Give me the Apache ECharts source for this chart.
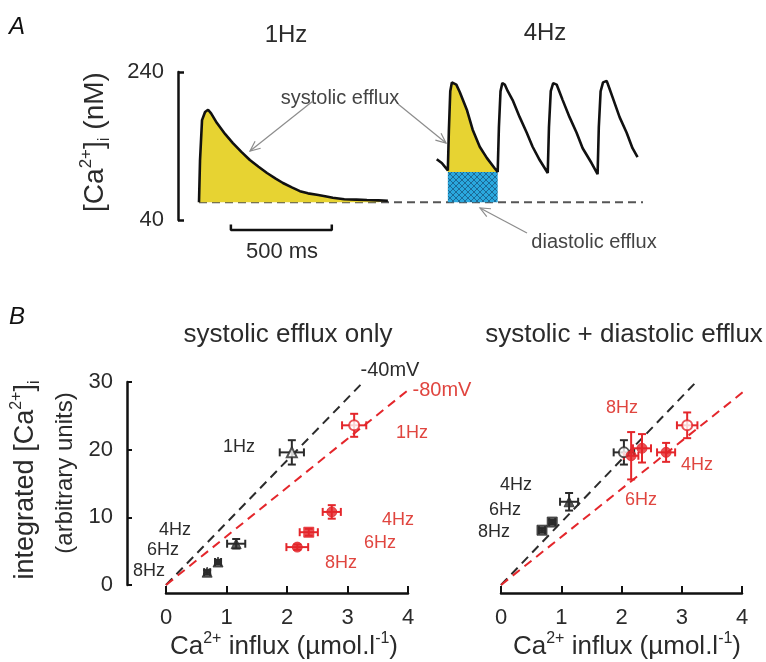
<!DOCTYPE html>
<html>
<head>
<meta charset="utf-8">
<script src="https://cdn.jsdelivr.net/npm/echarts@6/dist/echarts.min.js"></script>
<style>
  html, body { margin: 0; padding: 0; background: #fff; }
  #main { width: 766px; height: 662px; }
</style>
</head>
<body>
<div id="main"></div>
<script>
// --- panel A: Ca transients (time in ms, [Ca2+]i in nM) ---
const oneHzTime = [0, 5, 15, 30, 45, 60, 89, 130, 168, 210, 252, 295, 337, 380, 416, 460, 500, 540, 584, 625, 663, 720, 780, 832, 890, 936]
const oneHzCa = [64, 120, 175, 186, 189, 184, 171, 156, 144, 132, 121, 112, 103.5, 96, 90, 84, 79, 76, 74, 72, 70, 68, 67.5, 67, 66.5, 66]

const fourHzTime = [1178, 1203, 1233, 1238, 1245, 1253, 1262, 1275, 1292, 1327, 1356, 1391, 1426, 1465, 1480,
  1486, 1494, 1503, 1515, 1530, 1554, 1589, 1624, 1653, 1688, 1728,
  1734, 1743, 1755, 1772, 1785, 1802, 1836, 1871, 1901, 1945, 1975,
  1981, 1990, 2002, 2020, 2032, 2049, 2084, 2119, 2148, 2173]
const fourHzCa = [122, 117, 107, 160, 214, 226, 228, 223, 213, 189, 162, 139, 124, 110, 105,
  165, 214, 225, 223, 214, 202, 179, 158, 139, 121, 103.5,
  165, 214, 225, 223, 214, 202, 179, 158, 137, 117, 102,
  165, 214, 226, 228, 219, 206, 179, 158, 137, 125]

const baselineCa = 64
const diastolicCa = 105
const firstBeat = [2, 14]           // index range of the first 4Hz beat
const timeRange = [0, 2200]
const caTicks = [40, 240]
const scaleBarTime = [158, 658]     // 500 ms

// --- panel B: integrated efflux vs influx ---
const freqs = ['1Hz', '4Hz', '6Hz', '8Hz']

// systolic efflux only
const sysInflux40 = [2.08, 1.16, 0.86, 0.68]
const sysEfflux40 = [19.6, 6.1, 3.4, 1.9]
const sysInfluxErr40 = [0.2, 0.15, 0.05, 0.05]
const sysEffluxErr40 = [1.8, 0.7, 0.3, 0.3]
const sysInflux80 = [3.11, 2.74, 2.36, 2.17]
const sysEfflux80 = [23.6, 10.8, 7.8, 5.6]
const sysInfluxErr80 = [0.2, 0.15, 0.15, 0.18]
const sysEffluxErr80 = [1.7, 1.0, 0.5, 0.4]

// systolic + diastolic efflux
const totInflux40 = [2.04, 1.13, 0.85, 0.68]
const totEfflux40 = [19.6, 12.3, 9.3, 8.1]
const totInfluxErr40 = [0.17, 0.15, 0.05, 0.05]
const totEffluxErr40 = [1.8, 1.3, 0.3, 0.3]
const totInflux80 = [3.09, 2.74, 2.16, 2.34]
const totEfflux80 = [23.6, 19.6, 19.1, 20.2]
const totInfluxErr80 = [0.17, 0.15, 0.12, 0.15]
const totEffluxErr80 = [1.9, 1.4, 3.5, 2.1]

// fitted lines, end points [influx, efflux], both start at origin
const sysFit40 = [3.25, 29.9]
const sysFit80 = [4.07, 29.3]
const totFit40 = [3.27, 30.3]
const totFit80 = [4.1, 29.1]

const FONT = 'Liberation Sans, Arial, sans-serif'
const INK = '#2b2b2b'
const RED = '#e4262b'
const RED_TEXT = '#e0453f'

function hatchPattern() {
  const c = document.createElement('canvas')
  c.width = 6; c.height = 6
  const g = c.getContext('2d')
  g.fillStyle = '#2aa8de'
  g.fillRect(0, 0, 6, 6)
  g.strokeStyle = '#1c6a96'
  g.lineWidth = 1
  g.beginPath()
  g.moveTo(0, 0); g.lineTo(6, 6)
  g.moveTo(6, 0); g.lineTo(0, 6)
  g.stroke()
  return c
}

function zip(a, b) { return a.map((v, i) => [v, b[i]]) }

function errorItem(params, api) {
  const x = api.value(0), y = api.value(1), ex = api.value(2), ey = api.value(3)
  const l = api.coord([x - ex, y]), r = api.coord([x + ex, y])
  const t = api.coord([x, y + ey]), b = api.coord([x, y - ey])
  const cap = 4
  const style = { stroke: api.visual('color'), lineWidth: 2 }
  const seg = (x1, y1, x2, y2) => ({ type: 'line', shape: { x1, y1, x2, y2 }, style })
  return {
    type: 'group',
    children: [
      seg(l[0], l[1], r[0], r[1]),
      seg(l[0], l[1] - cap, l[0], l[1] + cap),
      seg(r[0], r[1] - cap, r[0], r[1] + cap),
      seg(t[0], t[1], b[0], b[1]),
      seg(t[0] - cap, t[1], t[0] + cap, t[1]),
      seg(b[0] - cap, b[1], b[0] + cap, b[1]),
    ],
  }
}

function pointSeries(idx, xs, ys, exs, eys, color, symbols) {
  return [
    {
      type: 'custom',
      xAxisIndex: idx, yAxisIndex: idx,
      renderItem: errorItem,
      itemStyle: { color },
      data: xs.map((v, i) => [v, ys[i], exs[i], eys[i]]),
      clip: false,
      z: 3,
    },
    {
      type: 'scatter',
      xAxisIndex: idx, yAxisIndex: idx,
      symbolSize: 10,
      data: xs.map((v, i) => ({
        value: [v, ys[i]],
        symbol: symbols[i],
        itemStyle: i === 0
          ? { color: '#fff', borderColor: color, borderWidth: 2 }
          : { color, borderColor: color, borderWidth: 1 },
      })),
      z: 4,
    },
  ]
}

function fitSeries(idx, end, color) {
  return {
    type: 'line',
    xAxisIndex: idx, yAxisIndex: idx,
    data: [[0, 0], end],
    symbol: 'none',
    clip: false,
    lineStyle: { color, width: 2, type: [9, 6] },
    z: 2,
  }
}

function txt(x, y, text, size, color, extra) {
  const fill = color || INK
  const small = Math.round(size * 0.6)
  return Object.assign({
    type: 'text', x, y,
    style: {
      text, fill,
      fontSize: size, fontFamily: FONT,
      align: 'center', verticalAlign: 'middle',
      rich: {
        sup: { fontSize: small, fontFamily: FONT, fill, verticalAlign: 'top', lineHeight: small },
        sub: { fontSize: small, fontFamily: FONT, fill, verticalAlign: 'bottom', lineHeight: small },
        n: { fontSize: size, fontFamily: FONT, fill, lineHeight: Math.round(size * 1.25) },
      },
    },
  }, extra || {})
}

function letter(x, y, text) {
  return { type: 'text', x, y, style: { text, fill: '#111', fontSize: 24, fontStyle: 'italic', fontFamily: FONT, align: 'center', verticalAlign: 'middle' } }
}

function arrow(x1, y1, x2, y2) {
  const a = Math.atan2(y2 - y1, x2 - x1), len = 11, spread = 0.42
  const style = { stroke: '#8c8c8c', lineWidth: 1.2 }
  return {
    type: 'group',
    children: [
      { type: 'line', shape: { x1, y1, x2, y2 }, style },
      { type: 'polyline', shape: { points: [
        [x2 - len * Math.cos(a - spread), y2 - len * Math.sin(a - spread)],
        [x2, y2],
        [x2 - len * Math.cos(a + spread), y2 - len * Math.sin(a + spread)],
      ] }, style },
    ],
  }
}

const axisLineStyle = { show: true, onZero: false, lineStyle: { color: '#111', width: 2.5 } }
const tickStyle = { color: '#111', width: 2 }
const labelStyle = { fontSize: 22, color: INK, fontFamily: FONT, margin: 14 }

const beatTime = fourHzTime.slice(firstBeat[0], firstBeat[1] + 1)
const beatCa = fourHzCa.slice(firstBeat[0], firstBeat[1] + 1)

const option = {
  animation: false,
  backgroundColor: '#fff',
  grid: [
    { left: 199, top: 72, width: 444, height: 148 },
    { left: 166, top: 382, width: 242, height: 203 },
    { left: 501, top: 382, width: 241, height: 203 },
  ],
  xAxis: [
    { gridIndex: 0, type: 'value', min: timeRange[0], max: timeRange[1], show: false },
    {
      gridIndex: 1, type: 'value', min: 0, max: 4, interval: 1, offset: 8,
      axisLine: axisLineStyle, splitLine: { show: false },
      axisTick: { inside: true, length: 7, lineStyle: tickStyle },
      axisLabel: labelStyle,
    },
    {
      gridIndex: 2, type: 'value', min: 0, max: 4, interval: 1, offset: 8,
      axisLine: axisLineStyle, splitLine: { show: false },
      axisTick: { inside: true, length: 7, lineStyle: tickStyle },
      axisLabel: labelStyle,
    },
  ],
  yAxis: [
    {
      gridIndex: 0, type: 'value', min: caTicks[0], max: caTicks[1], offset: 21,
      axisLine: axisLineStyle, splitLine: { show: false },
      axisTick: { inside: true, length: 6, customValues: caTicks, lineStyle: { color: '#111', width: 2.5 } },
      axisLabel: Object.assign({ customValues: caTicks }, labelStyle),
    },
    {
      gridIndex: 1, type: 'value', min: 0, max: 30, interval: 10, offset: 39,
      axisLine: axisLineStyle, splitLine: { show: false },
      axisTick: { inside: true, length: 5, lineStyle: tickStyle },
      axisLabel: labelStyle,
    },
    { gridIndex: 2, type: 'value', min: 0, max: 30, show: false },
  ],
  series: [
    // dashed baseline
    {
      type: 'line', xAxisIndex: 0, yAxisIndex: 0, symbol: 'none',
      data: [[timeRange[0], baselineCa], [timeRange[1], baselineCa]],
      lineStyle: { color: '#555', width: 2, type: [8, 5] }, z: 1,
    },
    // diastolic efflux box
    {
      type: 'line', xAxisIndex: 0, yAxisIndex: 0, symbol: 'none',
      data: [[beatTime[0], diastolicCa], [beatTime[beatTime.length - 1], diastolicCa]],
      lineStyle: { width: 0 },
      areaStyle: { origin: baselineCa, opacity: 1, color: { image: hatchPattern(), repeat: 'repeat' } },
      z: 2,
    },
    // systolic efflux fill, first 4Hz beat
    {
      type: 'line', xAxisIndex: 0, yAxisIndex: 0, symbol: 'none',
      data: zip(beatTime, beatCa),
      lineStyle: { width: 0 },
      areaStyle: { origin: diastolicCa, color: '#e7d332', opacity: 1 },
      z: 2,
    },
    // 1Hz transient
    {
      type: 'line', xAxisIndex: 0, yAxisIndex: 0, symbol: 'none',
      data: zip(oneHzTime, oneHzCa),
      lineStyle: { color: '#111', width: 2.6 },
      areaStyle: { origin: baselineCa, color: '#e7d332', opacity: 1 },
      z: 3,
    },
    // 4Hz transients
    {
      type: 'line', xAxisIndex: 0, yAxisIndex: 0, symbol: 'none',
      data: zip(fourHzTime, fourHzCa),
      lineStyle: { color: '#111', width: 2.6 },
      z: 3,
    },
    // 500 ms scale bar
    {
      type: 'line', xAxisIndex: 0, yAxisIndex: 0, symbol: 'none', clip: false,
      data: [[scaleBarTime[0], 34], [scaleBarTime[0], 26.5], [scaleBarTime[1], 26.5], [scaleBarTime[1], 34]],
      lineStyle: { color: '#111', width: 2.5 },
    },
    fitSeries(1, sysFit40, INK),
    fitSeries(1, sysFit80, RED),
    ...pointSeries(1, sysInflux40, sysEfflux40, sysInfluxErr40, sysEffluxErr40, INK, ['triangle', 'triangle', 'triangle', 'triangle']),
    ...pointSeries(1, sysInflux80, sysEfflux80, sysInfluxErr80, sysEffluxErr80, RED, ['circle', 'circle', 'rect', 'circle']),
    fitSeries(2, totFit40, INK),
    fitSeries(2, totFit80, RED),
    ...pointSeries(2, totInflux40, totEfflux40, totInfluxErr40, totEffluxErr40, INK, ['circle', 'triangle', 'rect', 'rect']),
    ...pointSeries(2, totInflux80, totEfflux80, totInfluxErr80, totEffluxErr80, RED, ['circle', 'circle', 'circle', 'circle']),
  ],
  graphic: [
    letter(17, 27, 'A'),
    txt(286, 35, '1Hz', 24),
    txt(545, 33, '4Hz', 24),
    txt(95, 142, '{n|[Ca}{sup|2+}{n|]}{sub|i}{n| (nM)}', 28, INK, { rotation: Math.PI / 2 }),
    txt(340, 98, 'systolic efflux', 20, '#444'),
    txt(594, 242, 'diastolic efflux', 20, '#444'),
    txt(282, 252, '500 ms', 22),
    arrow(313, 101, 250, 151),
    arrow(398, 104, 446, 143),
    arrow(527, 233, 480, 208),

    letter(17, 317, 'B'),
    txt(288, 335, 'systolic efflux only', 26),
    txt(624, 335, 'systolic + diastolic efflux', 26),
    txt(284, 647, '{n|Ca}{sup|2+}{n| influx (µmol.l}{sup|-1}{n|)}', 26),
    txt(627, 647, '{n|Ca}{sup|2+}{n| influx (µmol.l}{sup|-1}{n|)}', 26),
    txt(26, 480, '{n|integrated [Ca}{sup|2+}{n|]}{sub|i}', 27, INK, { rotation: Math.PI / 2 }),
    txt(65, 473, '(arbitrary units)', 24, INK, { rotation: Math.PI / 2 }),

    txt(390, 370, '-40mV', 20),
    txt(442, 390, '-80mV', 20, RED_TEXT),
    txt(239, 447, freqs[0], 18),
    txt(175, 530, freqs[1], 18),
    txt(163, 550, freqs[2], 18),
    txt(149, 571, freqs[3], 18),
    txt(412, 433, freqs[0], 18, RED_TEXT),
    txt(398, 520, freqs[1], 18, RED_TEXT),
    txt(380, 543, freqs[2], 18, RED_TEXT),
    txt(341, 563, freqs[3], 18, RED_TEXT),

    txt(622, 408, freqs[3], 18, RED_TEXT),
    txt(697, 465, freqs[1], 18, RED_TEXT),
    txt(641, 500, freqs[2], 18, RED_TEXT),
    txt(516, 485, freqs[1], 18),
    txt(505, 510, freqs[2], 18),
    txt(494, 532, freqs[3], 18),
  ],
}

const chart = echarts.init(document.getElementById('main'))
chart.setOption(option)
</script>
</body>
</html>
